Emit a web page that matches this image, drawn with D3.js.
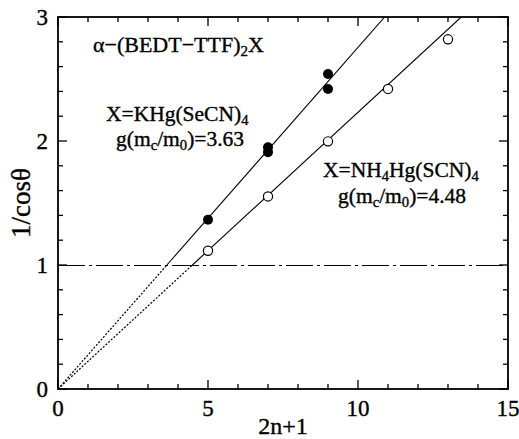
<!DOCTYPE html>
<html>
<head>
<meta charset="utf-8">
<script src="https://cdn.jsdelivr.net/npm/d3@7"></script>
<style>
  body { margin: 0; background: #fff; }
  text { font-family: "Liberation Serif", "Times New Roman", serif; fill: #000; stroke: #000; stroke-width: 0.35; }
</style>
</head>
<body>
<svg id="chart" width="519" height="439"></svg>
<script>
// KHg(SeCN)4 : filled circles
const filledX = [5, 7, 7, 9, 9];
const filledY = [1.365, 1.95, 1.91, 2.54, 2.42];
// NH4Hg(SCN)4 : open circles
const openX = [5, 7, 9, 11, 13];
const openY = [1.115, 1.553, 1.997, 2.42, 2.82];
// fitted g(mc/m0) values, lines 1/cos = (2n+1)/g
const gValues = [3.63, 4.48];
const xTicks = [0, 5, 10, 15];
const yTicks = [0, 1, 2, 3];

const width = 519, height = 439;
const margin = {left: 58, right: 11, top: 17, bottom: 50};

const svg = d3.select("#chart");

const x = d3.scaleLinear().domain([0, 15]).range([margin.left, width - margin.right]);
const y = d3.scaleLinear().domain([0, 3]).range([height - margin.bottom, margin.top]);

const x0 = x(0), x1 = x(15), y0 = y(0), y1 = y(3);

// clip to plot area
svg.append("clipPath").attr("id", "clip")
  .append("rect").attr("x", x0).attr("y", y1).attr("width", x1 - x0).attr("height", y0 - y1);

const plot = svg.append("g").attr("clip-path", "url(#clip)");

// horizontal reference line at 1/cos = 1
plot.append("line")
  .attr("x1", x0).attr("x2", x1)
  .attr("y1", Math.round(y(1)) + 0.5).attr("y2", Math.round(y(1)) + 0.5)
  .attr("stroke", "#000").attr("stroke-width", 1)
  .attr("stroke-dasharray", "27,4,3,4");

// fitted lines: dotted below 1, solid above
gValues.forEach(g => {
  plot.append("line")
    .attr("x1", x(0)).attr("y1", y(0))
    .attr("x2", x(g)).attr("y2", y(1))
    .attr("stroke", "#000").attr("stroke-width", 1.2)
    .attr("stroke-dasharray", "2,1.6");
  plot.append("line")
    .attr("x1", x(g)).attr("y1", y(1))
    .attr("x2", x(3 * g)).attr("y2", y(3))
    .attr("stroke", "#000").attr("stroke-width", 1.1);
});

// points
const filled = filledX.map((v, i) => [v, filledY[i]]);
const open = openX.map((v, i) => [v, openY[i]]);

svg.append("g").selectAll("circle")
  .data(open)
  .join("circle")
    .attr("cx", d => x(d[0]))
    .attr("cy", d => y(d[1]))
    .attr("r", 4.6)
    .attr("fill", "#fff")
    .attr("stroke", "#000")
    .attr("stroke-width", 1.2);

svg.append("g").selectAll("circle")
  .data(filled)
  .join("circle")
    .attr("cx", d => x(d[0]))
    .attr("cy", d => y(d[1]))
    .attr("r", 5)
    .attr("fill", "#000");

// frame
svg.append("rect")
  .attr("x", x0).attr("y", y1)
  .attr("width", x1 - x0).attr("height", y0 - y1)
  .attr("fill", "none").attr("stroke", "#000").attr("stroke-width", 1.8);

// ticks (inward, all sides)
const ticks = svg.append("g").attr("stroke", "#000").attr("stroke-width", 1.3);
d3.range(0, 16, 1).forEach(v => {
  const len = v % 5 === 0 ? 9 : 5;
  ticks.append("line").attr("x1", x(v)).attr("x2", x(v)).attr("y1", y0).attr("y2", y0 - len);
  ticks.append("line").attr("x1", x(v)).attr("x2", x(v)).attr("y1", y1).attr("y2", y1 + len);
});
d3.range(0, 16, 1).map(v => v / 5).forEach(v => {
  const len = Math.abs(v - Math.round(v)) < 1e-6 ? 9 : 5;
  ticks.append("line").attr("y1", y(v)).attr("y2", y(v)).attr("x1", x0).attr("x2", x0 + len);
  ticks.append("line").attr("y1", y(v)).attr("y2", y(v)).attr("x1", x1).attr("x2", x1 - len);
});

// tick labels
svg.append("g").selectAll("text")
  .data(xTicks)
  .join("text")
    .attr("x", d => x(d))
    .attr("y", y0 + 27)
    .attr("text-anchor", "middle")
    .attr("font-size", 23)
    .text(d => d);

svg.append("g").selectAll("text")
  .data(yTicks)
  .join("text")
    .attr("x", x0 - 10)
    .attr("y", d => y(d) + 8)
    .attr("text-anchor", "end")
    .attr("font-size", 23)
    .text(d => d);

// axis titles
svg.append("text")
  .attr("x", (x0 + x1) / 2)
  .attr("y", height - 5)
  .attr("text-anchor", "middle")
  .attr("font-size", 24)
  .text("2n+1");

svg.append("text")
  .attr("transform", `translate(30,${(y0 + y1) / 2}) rotate(-90)`)
  .attr("text-anchor", "middle")
  .attr("font-size", 27)
  .text("1/cosθ");

// annotations
function label(px, py, parts, size) {
  const t = svg.append("text").attr("x", px).attr("y", py).attr("font-size", size);
  parts.forEach(p => {
    const s = t.append("tspan").text(p[0]);
    if (p[1] === "sub") s.attr("font-size", size * 0.68).attr("dy", 4);
    if (p[1] === "up") s.attr("dy", -4);
  });
  return t;
}

label(93, 52, [["α−(BEDT−TTF)"], ["2", "sub"], ["X", "up"]], 22);
label(106, 121, [["X=KHg(SeCN)"], ["4", "sub"]], 21.5);
label(116, 146, [["g(m"], ["c", "sub"], ["/m", "up"], ["0", "sub"], [")=3.63", "up"]], 21.5);
label(323, 177, [["X=NH"], ["4", "sub"], ["Hg(SCN)", "up"], ["4", "sub"]], 21.5);
label(338, 203, [["g(m"], ["c", "sub"], ["/m", "up"], ["0", "sub"], [")=4.48", "up"]], 21.5);
</script>
</body>
</html>
